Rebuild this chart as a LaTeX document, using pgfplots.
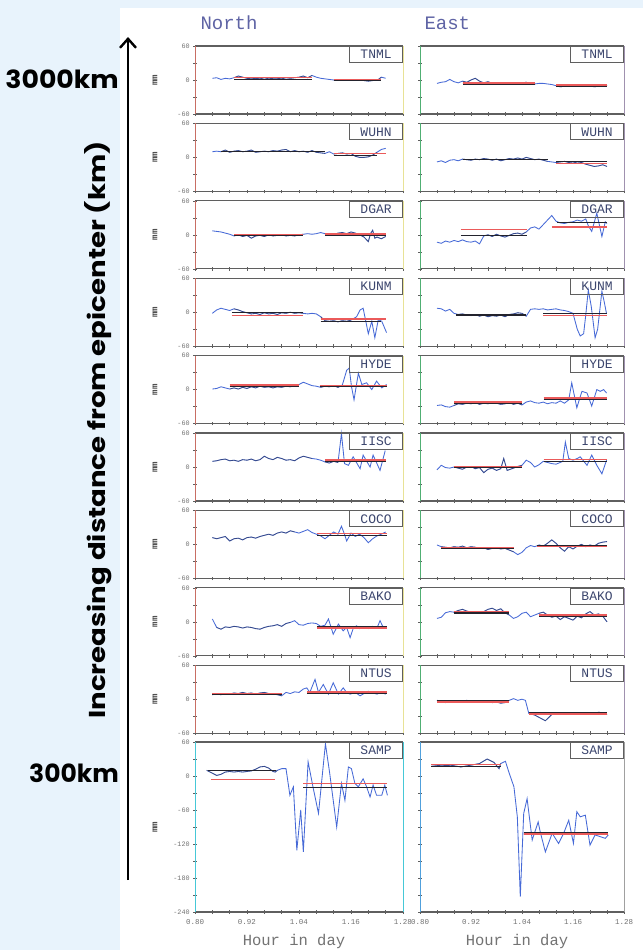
\documentclass[border=0pt]{standalone}
\usepackage{fontspec}
\setmonofont{Liberation Mono}
\newfontfamily\annfont{Poppins}
\usepackage{pgfplots}
\pgfplotsset{compat=1.18}
\usepackage{pgfplotstable}
\usetikzlibrary{arrows.meta}
\definecolor{bgblue}{RGB}{232,243,252}
\definecolor{trace}{RGB}{70,105,215}
\definecolor{redl}{RGB}{235,90,90}
\definecolor{darkl}{RGB}{35,35,45}
\definecolor{frameg}{RGB}{95,95,95}
\definecolor{titlec}{RGB}{95,100,165}
\definecolor{lblc}{RGB}{115,115,115}
\definecolor{namec}{RGB}{60,70,110}
\definecolor{sidered}{RGB}{200,110,100}
\definecolor{sideyel}{RGB}{232,226,150}
\definecolor{sidegrn}{RGB}{80,175,115}
\definecolor{sidepur}{RGB}{160,145,175}
\definecolor{sidecyan}{RGB}{70,200,215}
\definecolor{sideblue}{RGB}{80,160,220}
\definecolor{sidegray}{RGB}{160,160,160}
\tikzset{rs/.style={redl, line width=1.5pt}, ds/.style={darkl, line width=1.1pt}}

\pgfplotsset{
  panel/.style={scale only axis, xmin=0.80, xmax=1.28, clip=false,
    axis line style={draw=none},
    xtick={0.80,0.84,0.88,0.92,0.96,1.00,1.04,1.08,1.12,1.16,1.20,1.24,1.28},
    xticklabels={}, tick align=center, xtick pos=left, ytick pos=left,
    major tick length=3.5pt, tick style={frameg, line width=0.6pt},
    tick label style={font=\fontsize{6.8}{7}\selectfont\ttfamily, text=lblc},
    anchor=north west},
  lc/.style={width=208pt},
  rc/.style={width=204pt, yticklabels={}},
  sm/.style={height=68pt, ymin=-60, ymax=60, ytick={-60,-30,0,30,60}},
  smlab/.style={yticklabels={-60,,0,,60}},
  big/.style={height=170pt, ymin=-240, ymax=60,
    ytick={-240,-210,-180,-150,-120,-90,-60,-30,0,30,60},
    xticklabels={0.80,,,0.92,,,1.04,,,1.16,,,1.28},
    xticklabel style={font=\fontsize{7.5}{8}\selectfont\ttfamily, text=lblc, yshift=-2pt}},
  biglab/.style={yticklabels={-240,,-180,,-120,,-60,,0,,60}},
}
\newcommand{\seg}[4]{\addplot[#1] coordinates {(#2,#4) (#3,#4)};}
\newcommand{\win}[3]{\addplot[darkl, opacity=0.45, line width=0.8pt, restrict x to domain=#2:#3] table {#1};}
\newcommand{\tr}[1]{\addplot[trace, line width=0.85pt] table {#1};}
\newcommand{\frm}[3]{%
  \draw[frameg, line width=1.3pt] (rel axis cs:0,0) -- (rel axis cs:1,0);
  \draw[frameg, line width=1.3pt] (rel axis cs:0,1) -- (rel axis cs:1,1);
  \draw[#1, line width=0.9pt] (rel axis cs:0,0) -- (rel axis cs:0,1);
  \draw[#2, line width=0.9pt] (rel axis cs:1,0) -- (rel axis cs:1,1);
  \node[draw=frameg, line width=0.8pt, anchor=north east, minimum width=53pt, minimum height=16pt, inner sep=0pt, font=\fontsize{13}{13}\selectfont\ttfamily, text=namec] at (rel axis cs:1,1) {#3};}
\newcommand{\mm}{\node[rotate=90, font=\fontsize{9}{9}\selectfont\ttfamily\bfseries, text=gray!55!black] at ([xshift=-40pt]rel axis cs:0,0.5) {mm};}

% ---------- data (x = hour in day, y = mm) ----------
\pgfplotstableread[row sep=\\]{x y\\0.84 3\\0.85 4\\0.86 1\\0.87 3\\0.88 2\\0.89 4\\0.90 7\\0.91 5\\0.92 3\\0.93 2\\0.94 3\\0.95 2\\0.96 4\\0.97 2\\0.98 3\\0.99 3\\1.00 2\\1.01 4\\1.02 3\\1.03 4\\1.04 5\\1.05 7\\1.06 4\\1.07 8\\1.08 5\\1.09 3\\1.10 2\\1.11 1\\1.12 0\\1.13 -1\\1.14 1\\1.15 0\\1.16 -1\\1.17 0\\1.18 1\\1.19 -1\\1.20 -2\\1.21 -1\\1.22 -1\\1.23 5\\1.24 3\\}\tNa
\pgfplotstableread[row sep=\\]{x y\\0.84 -6\\0.85 -4\\0.86 -3\\0.87 1\\0.88 -3\\0.89 -5\\0.90 -2\\0.91 -4\\0.92 0\\0.93 3\\0.94 -2\\0.95 -5\\0.96 -3\\0.97 -6\\0.98 -5\\0.99 -7\\1.00 -6\\1.01 -5\\1.02 -7\\1.03 -6\\1.04 -5\\1.05 -4\\1.06 -6\\1.07 -7\\1.08 -6\\1.09 -6\\1.10 -7\\1.11 -8\\1.12 -10\\1.13 -12\\1.14 -11\\1.15 -10\\1.16 -9\\1.17 -10\\1.18 -11\\1.19 -9\\1.20 -10\\1.21 -12\\1.22 -11\\1.23 -10\\1.24 -9\\}\tEa
\pgfplotstableread[row sep=\\]{x y\\0.84 10\\0.85 11\\0.86 10\\0.87 13\\0.88 9\\0.89 11\\0.90 12\\0.91 10\\0.92 11\\0.93 13\\0.94 9\\0.95 10\\0.96 11\\0.97 10\\0.98 12\\0.99 11\\1.00 13\\1.01 14\\1.02 10\\1.03 12\\1.04 10\\1.05 11\\1.06 9\\1.07 12\\1.08 9\\1.09 8\\1.10 7\\1.11 10\\1.12 6\\1.13 7\\1.14 8\\1.15 6\\1.16 7\\1.17 2\\1.18 0\\1.19 0\\1.20 1\\1.21 4\\1.22 9\\1.23 14\\1.24 16\\}\tNb
\pgfplotstableread[row sep=\\]{x y\\0.84 -8\\0.85 -6\\0.86 -9\\0.87 -5\\0.88 -4\\0.89 -6\\0.90 -3\\0.91 -4\\0.92 -5\\0.93 -3\\0.94 -4\\0.95 -2\\0.96 -3\\0.97 -5\\0.98 -3\\0.99 -6\\1.00 -4\\1.01 -2\\1.02 -3\\1.03 -1\\1.04 -3\\1.05 0\\1.06 -2\\1.07 -4\\1.08 -3\\1.09 -5\\1.10 -7\\1.11 -8\\1.12 -9\\1.13 -8\\1.14 -7\\1.15 -9\\1.16 -8\\1.17 -10\\1.18 -9\\1.19 -12\\1.20 -14\\1.21 -16\\1.22 -15\\1.23 -13\\1.24 -16\\}\tEb
\pgfplotstableread[row sep=\\]{x y\\0.84 7\\0.85 6\\0.86 5\\0.87 3\\0.88 1\\0.89 -2\\0.90 0\\0.91 -3\\0.92 -1\\0.93 -6\\0.94 -2\\0.95 -1\\0.96 -3\\0.97 0\\0.98 -2\\0.99 -1\\1.00 0\\1.01 -2\\1.02 -1\\1.03 -2\\1.04 0\\1.05 1\\1.06 2\\1.07 1\\1.08 2\\1.09 4\\1.10 2\\1.11 1\\1.12 0\\1.13 3\\1.14 4\\1.15 2\\1.16 5\\1.17 3\\1.18 0\\1.19 -4\\1.20 -12\\1.205 2\\1.21 8\\1.215 -6\\1.22 -4\\1.23 -7\\1.24 -3\\}\tNc
\pgfplotstableread[row sep=\\]{x y\\0.84 -13\\0.85 -15\\0.86 -11\\0.87 -13\\0.88 -10\\0.89 -12\\0.90 -9\\0.91 -12\\0.92 -13\\0.93 -11\\0.94 -16\\0.95 -2\\0.96 0\\0.97 -3\\0.98 1\\0.99 -2\\1.00 -4\\1.01 -1\\1.02 2\\1.03 3\\1.04 1\\1.05 5\\1.06 12\\1.07 14\\1.08 10\\1.09 18\\1.10 26\\1.11 34\\1.12 24\\1.13 21\\1.14 20\\1.15 22\\1.16 23\\1.17 26\\1.18 24\\1.19 28\\1.196 16\\1.204 6\\1.216 38\\1.228 -3\\1.236 23\\1.24 20\\}\tEc
\pgfplotstableread[row sep=\\]{x y\\0.84 -2\\0.85 4\\0.86 7\\0.87 5\\0.88 3\\0.89 6\\0.90 4\\0.91 1\\0.92 -1\\0.93 -3\\0.94 -2\\0.95 -4\\0.96 -1\\0.97 -3\\0.98 -2\\0.99 -4\\1.00 -1\\1.01 -2\\1.02 0\\1.03 -2\\1.04 -1\\1.05 -2\\1.06 -3\\1.07 -2\\1.08 -3\\1.09 -8\\1.10 -15\\1.11 -16\\1.12 -15\\1.13 -17\\1.14 -15\\1.15 -16\\1.16 -14\\1.173 -8\\1.181 4\\1.188 7\\1.200 -38\\1.208 -16\\1.215 -45\\1.223 -13\\1.231 -16\\1.242 -36\\}\tNd
\pgfplotstableread[row sep=\\]{x y\\0.84 7\\0.85 6\\0.86 2\\0.87 5\\0.88 -2\\0.89 -4\\0.90 -3\\0.91 -5\\0.92 -6\\0.93 -4\\0.94 -7\\0.95 -5\\0.96 -8\\0.97 -6\\0.98 -7\\0.99 -5\\1.00 -8\\1.01 -4\\1.02 -3\\1.03 -1\\1.04 -2\\1.05 -7\\1.06 5\\1.07 6\\1.08 5\\1.09 6\\1.10 4\\1.11 5\\1.12 6\\1.13 4\\1.14 3\\1.15 1\\1.16 -2\\1.17 -30\\1.177 -42\\1.185 -38\\1.19 -5\\1.196 39\\1.203 10\\1.212 -45\\1.218 -30\\1.228 37\\1.233 20\\1.239 -3\\}\tEd
\pgfplotstableread[row sep=\\]{x y\\0.84 1\\0.85 2\\0.86 5\\0.87 3\\0.88 1\\0.89 3\\0.90 1\\0.91 4\\0.92 2\\0.93 5\\0.94 3\\0.95 6\\0.96 4\\0.97 5\\0.98 3\\0.99 5\\1.00 4\\1.01 6\\1.02 5\\1.03 7\\1.04 9\\1.05 13\\1.06 10\\1.07 7\\1.08 6\\1.09 4\\1.10 6\\1.11 5\\1.12 7\\1.13 4\\1.14 8\\1.150 34\\1.156 38\\1.161 6\\1.167 -18\\1.177 29\\1.185 9\\1.196 12\\1.208 0\\1.219 15\\1.231 3\\1.242 9\\}\tNe
\pgfplotstableread[row sep=\\]{x y\\0.84 -28\\0.85 -27\\0.86 -30\\0.87 -31\\0.88 -28\\0.89 -25\\0.90 -26\\0.91 -24\\0.92 -25\\0.93 -23\\0.94 -26\\0.95 -24\\0.96 -25\\0.97 -23\\0.98 -24\\0.99 -26\\1.00 -25\\1.01 -23\\1.02 -26\\1.03 -24\\1.04 -27\\1.05 -22\\1.06 -20\\1.07 -23\\1.08 -24\\1.09 -22\\1.10 -25\\1.11 -23\\1.12 -24\\1.13 -20\\1.14 -24\\1.15 -18\\1.157 12\\1.169 -32\\1.181 -3\\1.193 -6\\1.204 -29\\1.216 0\\1.224 -3\\1.232 0\\1.239 -6\\}\tEe
\pgfplotstableread[row sep=\\]{x y\\0.84 10\\0.85 11\\0.86 13\\0.87 14\\0.88 11\\0.89 12\\0.90 10\\0.91 13\\0.92 12\\0.93 14\\0.94 11\\0.95 13\\0.96 19\\0.97 15\\0.98 13\\0.99 17\\1.00 15\\1.01 12\\1.02 13\\1.03 11\\1.04 16\\1.05 19\\1.06 17\\1.07 15\\1.08 14\\1.09 12\\1.10 9\\1.11 7\\1.12 10\\1.13 8\\1.138 59\\1.145 6\\1.154 3\\1.165 18\\1.181 -3\\1.188 21\\1.204 0\\1.211 21\\1.227 -6\\1.239 29\\}\tNf
\pgfplotstableread[row sep=\\]{x y\\0.84 -5\\0.85 3\\0.86 -1\\0.87 -2\\0.88 0\\0.89 -2\\0.90 -4\\0.91 0\\0.92 1\\0.93 -3\\0.94 -1\\0.95 -10\\0.96 -4\\0.97 -2\\0.98 -6\\0.99 -3\\0.997 15\\1.005 -6\\1.02 -2\\1.03 1\\1.04 3\\1.05 12\\1.06 8\\1.07 0\\1.08 4\\1.09 10\\1.10 8\\1.11 6\\1.12 5\\1.13 8\\1.136 10\\1.142 44\\1.150 15\\1.16 12\\1.17 15\\1.177 18\\1.193 3\\1.204 21\\1.216 3\\1.228 -12\\1.239 12\\}\tEf
\pgfplotstableread[row sep=\\]{x y\\0.84 12\\0.85 10\\0.86 12\\0.87 14\\0.88 6\\0.89 10\\0.90 11\\0.91 8\\0.92 12\\0.93 13\\0.94 11\\0.95 14\\0.96 16\\0.97 18\\0.98 16\\0.99 20\\1.00 22\\1.01 20\\1.02 24\\1.03 22\\1.04 20\\1.05 23\\1.06 26\\1.07 21\\1.08 18\\1.09 15\\1.10 10\\1.11 16\\1.12 22\\1.13 18\\1.138 32\\1.145 18\\1.15 6\\1.16 20\\1.17 14\\1.18 18\\1.19 12\\1.20 3\\1.21 10\\1.22 15\\1.23 18\\1.24 22\\}\tNg
\pgfplotstableread[row sep=\\]{x y\\0.84 -1\\0.85 -4\\0.86 -5\\0.87 -6\\0.88 -4\\0.89 -5\\0.90 -3\\0.91 -6\\0.92 -4\\0.93 -5\\0.94 -7\\0.95 -6\\0.96 -9\\0.97 -7\\0.98 -6\\0.99 -8\\1.00 -7\\1.01 -10\\1.02 -13\\1.03 -18\\1.04 -14\\1.05 -6\\1.06 -2\\1.07 -4\\1.08 -1\\1.09 -3\\1.10 2\\1.11 8\\1.12 2\\1.13 -6\\1.14 -12\\1.15 -4\\1.16 -8\\1.17 -3\\1.18 0\\1.19 -4\\1.20 -1\\1.21 -3\\1.22 2\\1.23 4\\1.24 5\\}\tEg
\pgfplotstableread[row sep=\\]{x y\\0.84 5\\0.85 -10\\0.86 -13\\0.87 -9\\0.88 -10\\0.89 -8\\0.90 -9\\0.91 -11\\0.92 -9\\0.93 -10\\0.94 -12\\0.95 -13\\0.96 -10\\0.97 -8\\0.98 -7\\0.99 -5\\1.00 -8\\1.01 -3\\1.02 -1\\1.03 2\\1.04 -5\\1.05 -6\\1.06 -3\\1.07 -2\\1.08 -3\\1.09 -8\\1.10 -6\\1.108 5\\1.119 -22\\1.131 -4\\1.142 -16\\1.15 -10\\1.158 -28\\1.165 -12\\1.173 -7\\1.18 -12\\1.19 -9\\1.20 -12\\1.21 -8\\1.22 -11\\1.227 2\\1.235 -11\\1.242 -10\\}\tNh
\pgfplotstableread[row sep=\\]{x y\\0.84 6\\0.85 8\\0.86 16\\0.87 18\\0.88 17\\0.89 20\\0.90 22\\0.91 19\\0.92 17\\0.93 18\\0.94 16\\0.95 18\\0.96 22\\0.97 24\\0.98 20\\0.99 23\\1.00 16\\1.01 12\\1.02 6\\1.03 9\\1.04 15\\1.05 17\\1.06 9\\1.07 12\\1.08 15\\1.09 17\\1.10 12\\1.11 8\\1.12 10\\1.13 4\\1.14 9\\1.15 6\\1.16 3\\1.17 10\\1.18 7\\1.19 14\\1.20 18\\1.21 12\\1.22 14\\1.23 10\\1.24 0\\}\tEh
\pgfplotstableread[row sep=\\]{x y\\0.84 8\\0.85 9\\0.86 8\\0.87 10\\0.88 9\\0.89 11\\0.90 10\\0.91 12\\0.92 10\\0.93 11\\0.94 9\\0.95 11\\0.96 12\\0.97 10\\0.98 9\\0.99 8\\1.00 6\\1.01 12\\1.02 10\\1.03 13\\1.04 12\\1.05 18\\1.058 20\\1.065 12\\1.077 35\\1.085 12\\1.096 26\\1.108 9\\1.119 29\\1.131 9\\1.142 20\\1.15 12\\1.158 9\\1.17 12\\1.181 6\\1.19 10\\1.20 14\\1.21 11\\1.22 9\\1.23 12\\1.24 9\\}\tNi
\pgfplotstableread[row sep=\\]{x y\\0.84 -2\\0.85 -4\\0.86 -6\\0.87 -4\\0.88 -5\\0.89 -3\\0.90 -4\\0.91 -2\\0.92 -4\\0.93 -5\\0.94 -3\\0.95 -5\\0.96 -4\\0.97 -6\\0.98 -5\\0.99 -7\\1.00 -6\\1.01 -2\\1.02 1\\1.03 -2\\1.04 0\\1.048 -2\\1.056 -25\\1.07 -28\\1.08 -32\\1.095 -38\\1.11 -27\\1.12 -25\\1.13 -26\\1.14 -24\\1.15 -25\\1.16 -26\\1.17 -24\\1.18 -25\\1.19 -26\\1.20 -24\\1.21 -25\\1.22 -23\\1.23 -24\\1.24 -27\\}\tEi
\pgfplotstableread[row sep=\\]{x y\\0.827 10\\0.84 5\\0.85 1\\0.86 3\\0.87 7\\0.88 8\\0.89 7\\0.90 8\\0.91 7\\0.92 8\\0.93 9\\0.94 12\\0.95 16\\0.96 17\\0.97 14\\0.98 8\\0.985 7\\0.99 10\\1.00 13\\1.01 13\\1.019 -34\\1.027 -19\\1.035 -131\\1.044 -60\\1.050 -134\\1.061 25\\1.073 -22\\1.085 -66\\1.101 57\\1.111 4\\1.127 -90\\1.138 -13\\1.146 -43\\1.154 16\\1.161 13\\1.169 -13\\1.177 -19\\1.188 -5\\1.196 -19\\1.204 -37\\1.211 -16\\1.219 -34\\1.231 -34\\1.238 -16\\1.244 -34\\}\tNj
\pgfplotstableread[row sep=\\]{x y\\0.826 20\\0.85 18\\0.873 19\\0.896 16\\0.919 19\\0.94 22\\0.958 30\\0.974 24\\0.986 13\\0.990 22\\1.001 26\\1.009 7\\1.021 -19\\1.029 -72\\1.036 -213\\1.044 -66\\1.052 -40\\1.064 -113\\1.078 -81\\1.083 -99\\1.095 -134\\1.111 -101\\1.126 -119\\1.138 -101\\1.150 -78\\1.161 -119\\1.169 -63\\1.177 -72\\1.189 -69\\1.200 -122\\1.212 -104\\1.224 -107\\1.236 -110\\1.243 -104\\}\tEj

\begin{document}
\begin{tikzpicture}
\useasboundingbox (0,0) rectangle (643pt,-950pt);
\fill[bgblue] (0,0) rectangle (643pt,-950pt);
\fill[white] (120pt,-8pt) rectangle (643pt,-950pt);

% ---------------- North column ----------------
\begin{axis}[panel, lc, sm, smlab, at={(195pt,-46pt)}]
\tr{\tNa}\win{\tNa}{0.89}{1.07}\win{\tNa}{1.12}{1.23}
\seg{ds}{0.89}{1.07}{1.5}\seg{rs}{0.89}{1.07}{4}
\seg{ds}{1.12}{1.23}{-1}\seg{rs}{1.12}{1.23}{1}
\frm{sidered}{sideyel}{TNML}\mm
\end{axis}
\begin{axis}[panel, lc, sm, smlab, at={(195pt,-123.4pt)}]
\tr{\tNb}\win{\tNb}{0.86}{1.10}\win{\tNb}{1.12}{1.22}
\seg{ds}{0.86}{1.10}{10}
\seg{ds}{1.12}{1.22}{4}\seg{rs}{1.12}{1.24}{7}
\frm{sidered}{sideyel}{WUHN}\mm
\end{axis}
\begin{axis}[panel, lc, sm, smlab, at={(195pt,-200.8pt)}]
\tr{\tNc}\win{\tNc}{0.89}{1.05}\win{\tNc}{1.10}{1.24}
\seg{ds}{0.89}{1.05}{-1.5}\seg{rs}{0.89}{1.05}{0.5}
\seg{ds}{1.10}{1.24}{-0.5}\seg{rs}{1.10}{1.24}{1.5}
\frm{sidered}{sideyel}{DGAR}\mm
\end{axis}
\begin{axis}[panel, lc, sm, smlab, at={(195pt,-278.2pt)}]
\tr{\tNd}\win{\tNd}{0.885}{1.05}\win{\tNd}{1.09}{1.17}
\seg{ds}{0.885}{1.05}{0}\seg{rs}{0.885}{1.05}{-6}
\seg{ds}{1.09}{1.23}{-16}\seg{rs}{1.09}{1.24}{-12}
\frm{sidered}{sideyel}{KUNM}\mm
\end{axis}
\begin{axis}[panel, lc, sm, smlab, at={(195pt,-355.6pt)}]
\tr{\tNe}\win{\tNe}{0.88}{1.04}\win{\tNe}{1.088}{1.14}
\seg{ds}{0.88}{1.04}{5}\seg{rs}{0.88}{1.04}{8}
\seg{ds}{1.088}{1.242}{5}\seg{rs}{1.088}{1.242}{7.5}
\frm{sidered}{sideyel}{HYDE}\mm
\end{axis}
\begin{axis}[panel, lc, sm, smlab, at={(195pt,-433pt)}]
\tr{\tNf}\win{\tNf}{0.84}{1.07}\win{\tNf}{1.10}{1.13}
\seg{ds}{1.10}{1.24}{9.5}\seg{rs}{1.10}{1.24}{12}
\frm{sidered}{sideyel}{IISC}\mm
\end{axis}
\begin{axis}[panel, lc, sm, smlab, at={(195pt,-510.4pt)}]
\tr{\tNg}\win{\tNg}{0.84}{1.03}
\seg{ds}{1.081}{1.242}{15.5}\seg{rs}{1.081}{1.242}{19}
\frm{sidered}{sideyel}{COCO}\mm
\end{axis}
\begin{axis}[panel, lc, sm, smlab, at={(195pt,-587.8pt)}]
\tr{\tNh}\win{\tNh}{0.85}{1.02}
\seg{ds}{1.081}{1.242}{-8}\seg{rs}{1.081}{1.242}{-10.5}
\frm{sidered}{sideyel}{BAKO}\mm
\end{axis}
\begin{axis}[panel, lc, sm, smlab, at={(195pt,-665.2pt)}]
\tr{\tNi}\win{\tNi}{0.84}{1.00}
\seg{ds}{0.84}{1.00}{8.5}\seg{rs}{0.84}{1.00}{10.5}
\seg{ds}{1.058}{1.242}{10.5}\seg{rs}{1.058}{1.242}{13}
\frm{sidered}{sideyel}{NTUS}\mm
\end{axis}
\begin{axis}[panel, lc, big, biglab, at={(195pt,-742pt)}]
\tr{\tNj}\win{\tNj}{0.827}{0.99}
\seg{ds}{0.83}{0.988}{9}\seg{rs}{0.836}{0.985}{-6}
\seg{ds}{1.05}{1.244}{-20}\seg{rs}{1.05}{1.244}{-13}
\frm{sidecyan}{sidecyan}{SAMP}\mm
\end{axis}

% ---------------- East column ----------------
\begin{axis}[panel, rc, sm, at={(420pt,-46pt)}]
\tr{\tEa}\win{\tEa}{0.90}{1.07}\win{\tEa}{1.12}{1.24}
\seg{ds}{0.90}{1.07}{-7}\seg{rs}{0.90}{1.07}{-5}
\seg{ds}{1.12}{1.24}{-11}\seg{rs}{1.12}{1.24}{-9}
\frm{sidegrn}{sidepur}{TNML}
\end{axis}
\begin{axis}[panel, rc, sm, at={(420pt,-123.4pt)}]
\tr{\tEb}\win{\tEb}{0.90}{1.10}\win{\tEb}{1.12}{1.24}
\seg{ds}{0.90}{1.10}{-4}
\seg{ds}{1.12}{1.24}{-8}\seg{rs}{1.12}{1.24}{-10.5}
\frm{sidegrn}{sidepur}{WUHN}
\end{axis}
\begin{axis}[panel, rc, sm, at={(420pt,-200.8pt)}]
\tr{\tEc}\win{\tEc}{0.95}{1.05}
\seg{ds}{0.896}{1.052}{-1}\seg{rs}{0.896}{1.052}{9}
\seg{ds}{1.122}{1.24}{21}\seg{rs}{1.11}{1.24}{14}
\frm{sidegrn}{sidepur}{DGAR}
\end{axis}
\begin{axis}[panel, rc, sm, at={(420pt,-278.2pt)}]
\tr{\tEd}\win{\tEd}{0.885}{1.05}
\seg{ds}{0.885}{1.05}{-5}
\seg{ds}{1.09}{1.24}{-2.5}\seg{rs}{1.09}{1.24}{-5.5}
\frm{sidegrn}{sidepur}{KUNM}
\end{axis}
\begin{axis}[panel, rc, sm, at={(420pt,-355.6pt)}]
\tr{\tEe}\win{\tEe}{0.88}{1.04}
\seg{ds}{0.88}{1.04}{-25}\seg{rs}{0.88}{1.04}{-22}
\seg{ds}{1.091}{1.24}{-17.5}\seg{rs}{1.091}{1.24}{-15}
\frm{sidegrn}{sidepur}{HYDE}
\end{axis}
\begin{axis}[panel, rc, sm, at={(420pt,-433pt)}]
\tr{\tEf}\win{\tEf}{0.88}{1.04}
\seg{ds}{0.88}{1.04}{-1.5}\seg{rs}{0.88}{1.04}{1}
\seg{ds}{1.091}{1.239}{10.5}\seg{rs}{1.091}{1.239}{13}
\frm{sidegrn}{sidepur}{IISC}
\end{axis}
\begin{axis}[panel, rc, sm, at={(420pt,-510.4pt)}]
\tr{\tEg}\win{\tEg}{0.85}{1.02}\win{\tEg}{1.076}{1.24}
\seg{ds}{0.85}{1.02}{-8}\seg{rs}{0.85}{1.02}{-5.5}
\seg{ds}{1.076}{1.24}{-1.5}\seg{rs}{1.076}{1.24}{-4}
\frm{sidegrn}{sidepur}{COCO}
\end{axis}
\begin{axis}[panel, rc, sm, at={(420pt,-587.8pt)}]
\tr{\tEh}\win{\tEh}{0.88}{1.01}\win{\tEh}{1.08}{1.24}
\seg{ds}{0.88}{1.01}{15.5}\seg{rs}{0.88}{1.01}{18}
\seg{ds}{1.08}{1.24}{9.5}\seg{rs}{1.08}{1.24}{12}
\frm{sidegrn}{sidepur}{BAKO}
\end{axis}
\begin{axis}[panel, rc, sm, at={(420pt,-665.2pt)}]
\tr{\tEi}\win{\tEi}{0.84}{1.01}\win{\tEi}{1.056}{1.24}
\seg{ds}{0.84}{1.01}{-2.5}\seg{rs}{0.84}{1.01}{-5}
\seg{ds}{1.056}{1.24}{-23.5}\seg{rs}{1.056}{1.24}{-26}
\frm{sidegrn}{sidepur}{NTUS}
\end{axis}
\begin{axis}[panel, rc, big, at={(420pt,-742pt)}]
\tr{\tEj}\win{\tEj}{0.826}{0.99}
\seg{ds}{0.826}{0.99}{17}\seg{rs}{0.826}{0.99}{20}
\seg{rs}{1.044}{1.243}{-102}\seg{ds}{1.044}{1.243}{-100}
\frm{sideblue}{sidegray}{SAMP}
\end{axis}

% ---------------- titles and annotations ----------------
\node[anchor=west, font=\fontsize{19}{19}\selectfont\ttfamily, text=titlec] at (197pt,-23pt) {North};
\node[anchor=west, font=\fontsize{19}{19}\selectfont\ttfamily, text=titlec] at (421pt,-23pt) {East};
\node[font=\fontsize{15.5}{16}\selectfont\ttfamily, text=lblc] at (294pt,-941pt) {Hour in day};
\node[font=\fontsize{15.5}{16}\selectfont\ttfamily, text=lblc] at (517pt,-941pt) {Hour in day};

\draw[line width=2.8pt, -{Straight Barb[length=9pt,width=16pt,line width=2.4pt]}] (128pt,-880pt) -- (128pt,-37pt);
\node[anchor=east, inner sep=0pt, font=\annfont\bfseries\fontsize{25}{25}\selectfont] at (119pt,-79pt) {\scalebox{1.07}[1]{3000km}};
\node[anchor=east, inner sep=0pt, font=\annfont\bfseries\fontsize{25}{25}\selectfont] at (119pt,-773pt) {300km};
\node[rotate=90, inner sep=0pt, font=\annfont\bfseries\fontsize{23}{23}\selectfont] at (98pt,-430pt) {\scalebox{1.2}[1]{Increasing distance from epicenter (km)}};
\end{tikzpicture}
\end{document}
